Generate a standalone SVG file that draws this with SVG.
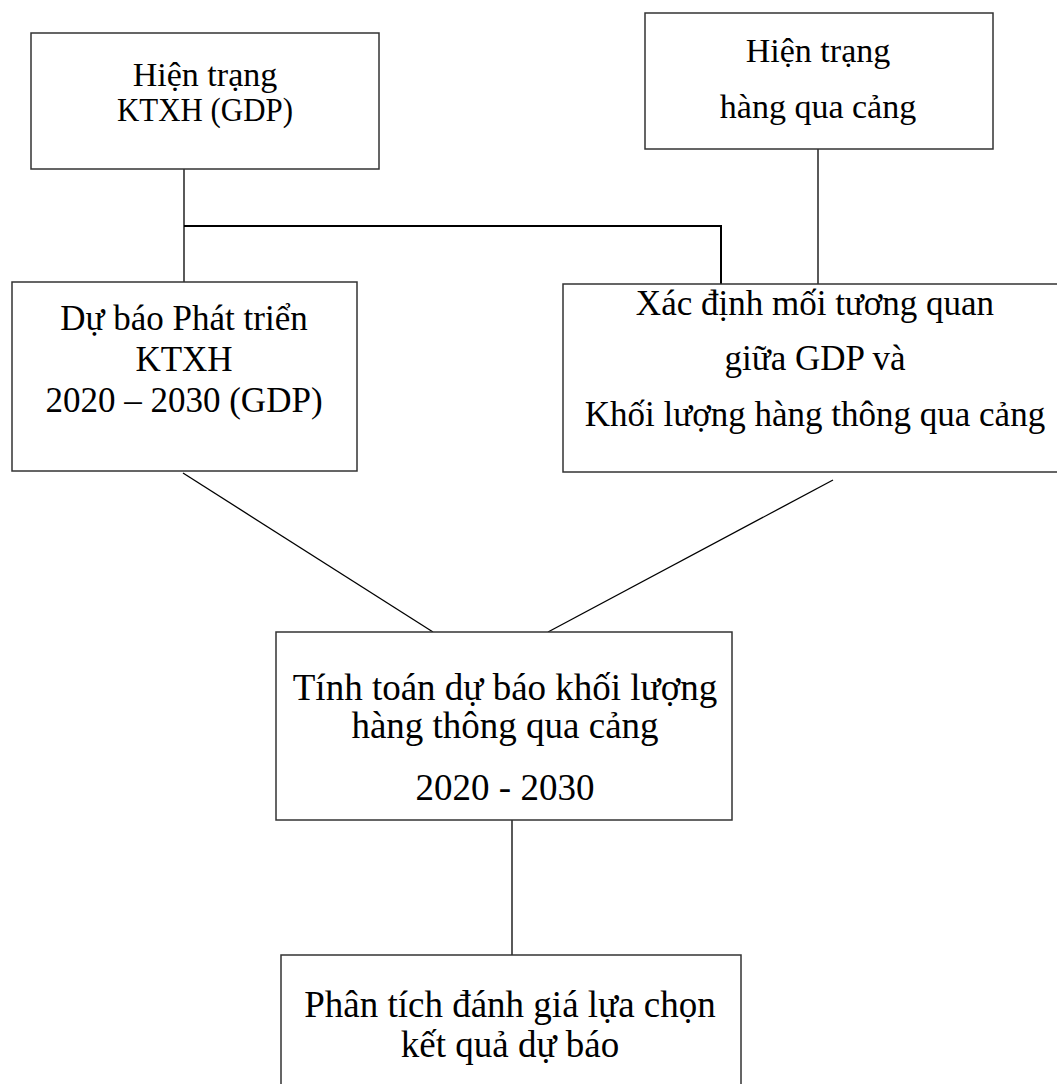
<svg xmlns="http://www.w3.org/2000/svg" width="1057" height="1084" viewBox="0 0 1057 1084">
<style>
.box{fill:#fff;stroke:#333;stroke-width:1.5}
.t{font-family:"Liberation Serif","Times New Roman",serif;fill:#000;text-anchor:middle;font-size:34px}
.t3{font-size:35px}
.t2{font-size:37px}
.c{stroke:#000;stroke-width:1.3;fill:none}
</style>
<rect width="1057" height="1084" fill="#fff"/>
<g id="connectors">
<line class="c" x1="184" y1="169" x2="184" y2="282"/>
<polyline class="c" points="184,226 721,226 721,284" style="stroke-width:2"/>
<line class="c" x1="818" y1="149" x2="818" y2="284"/>
<line class="c" x1="183" y1="473" x2="433" y2="632"/>
<line class="c" x1="833" y1="480" x2="548" y2="632"/>
<line class="c" x1="512" y1="820" x2="512" y2="955"/>
</g>
<g id="n1">
<rect class="box" x="31" y="33" width="348" height="136"/>
<text class="t" x="205" y="86">Hiện trạng</text>
<text class="t" x="205" y="121" textLength="176" lengthAdjust="spacingAndGlyphs">KTXH (GDP)</text>
</g>
<g id="n2">
<rect class="box" x="645" y="13" width="348" height="136"/>
<text class="t" x="818" y="62">Hiện trạng</text>
<text class="t" x="818" y="118">hàng qua cảng</text>
</g>
<g id="n3">
<rect class="box" x="12" y="282" width="345" height="189"/>
<text class="t t3" x="184" y="330">Dự báo Phát triển</text>
<text class="t t3" x="184" y="371">KTXH</text>
<text class="t t3" x="184" y="412">2020 – 2030 (GDP)</text>
</g>
<g id="n4">
<rect class="box" x="563" y="284" width="500" height="188"/>
<text class="t t3" x="815" y="315">Xác định mối tương quan</text>
<text class="t t3" x="815" y="370">giữa GDP và</text>
<text class="t t3" x="815" y="426">Khối lượng hàng thông qua cảng</text>
</g>
<g id="n5">
<rect class="box" x="276" y="632" width="456" height="188"/>
<text class="t t2" x="505" y="700">Tính toán dự báo khối lượng</text>
<text class="t t2" x="505" y="738">hàng thông qua cảng</text>
<text class="t t2" x="505" y="800">2020 - 2030</text>
</g>
<g id="n6">
<rect class="box" x="281" y="955" width="460" height="200"/>
<text class="t t2" x="510" y="1017">Phân tích đánh giá lựa chọn</text>
<text class="t t2" x="510" y="1057">kết quả dự báo</text>
</g>
</svg>
